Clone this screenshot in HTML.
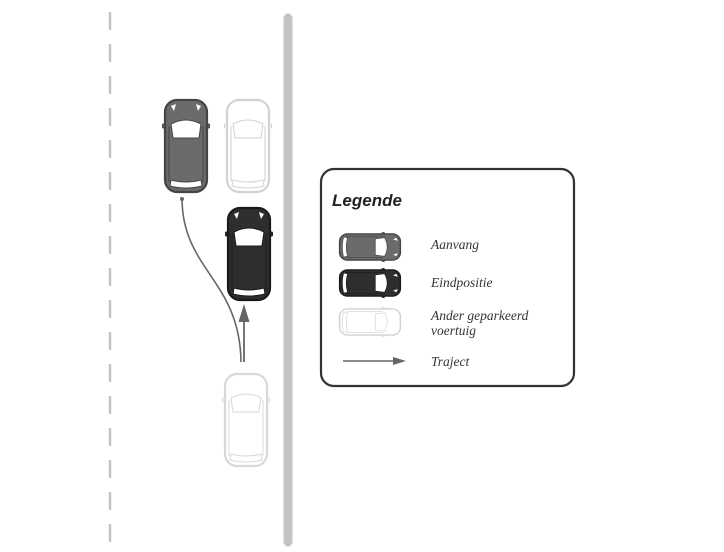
<!DOCTYPE html>
<html><head><meta charset="utf-8"><style>
html,body{margin:0;padding:0;background:#fff;}
svg{display:block;}
</style></head><body>
<svg width="724" height="552" viewBox="0 0 724 552" xmlns="http://www.w3.org/2000/svg">
<defs>
<g id="car">
  <rect x="-23.5" y="-22" width="4" height="4" rx="1"/>
  <rect x="19.5" y="-22" width="4" height="4" rx="1"/>
  <rect x="-21" y="-46" width="42" height="92" rx="12" stroke-width="2.2"/>
  <path d="M-15,-22 Q0,-30 15,-22 L13,-8 L-13,-8 Z" fill="#fff" stroke-width="1"/>
  <path d="M-17,-20 L-17,36 M17,-20 L17,36" stroke-width="1" fill="none"/>
  <path d="M-15,34 Q0,38 15,34 L16,40 Q0,44 -16,40 Z" fill="#fff" stroke-width="1"/>
  <path d="M-15,-40 L-10,-42 L-12,-35 Z M15,-40 L10,-42 L12,-35 Z" fill="#fff" stroke="none"/>
</g>
</defs>
<line x1="110" y1="12" x2="110" y2="545" stroke="#c4c4c4" stroke-width="2.5" stroke-dasharray="18,14"/>
<line x1="288" y1="18" x2="288" y2="542" stroke="#c4c4c4" stroke-width="9" stroke-linecap="round"/>

<use href="#car" transform="translate(186,146)" fill="#6b6b6b" stroke="#444"/>
<use href="#car" transform="translate(248,146)" fill="#fff" stroke="#d2d2d2"/>
<use href="#car" transform="translate(249,254)" fill="#2e2e2e" stroke="#1a1a1a"/>
<use href="#car" transform="translate(246,420)" fill="#fff" stroke="#d8d8d8"/>

<path d="M182,198 C182,270 240,280 241,362" fill="none" stroke="#666" stroke-width="1.6"/>
<circle cx="182" cy="199" r="2" fill="#666"/>
<line x1="244" y1="362" x2="244" y2="318" stroke="#666" stroke-width="1.8"/>
<polygon points="244,304 238.5,322 249.5,322" fill="#666"/>

<rect x="321" y="169" width="253" height="217" rx="13" fill="#fff" stroke="#333" stroke-width="2.2"/>
<text x="332" y="206" font-family="Liberation Sans, sans-serif" font-weight="bold" font-style="italic" font-size="17" fill="#222" textLength="70">Legende</text>
<use href="#car" transform="translate(370,247) rotate(90) scale(0.62,0.66)" fill="#6b6b6b" stroke="#444"/>
<use href="#car" transform="translate(370,283) rotate(90) scale(0.62,0.66)" fill="#2e2e2e" stroke="#1a1a1a"/>
<use href="#car" transform="translate(370,322) rotate(90) scale(0.62,0.66)" fill="#fff" stroke="#d2d2d2"/>
<line x1="343" y1="361" x2="395" y2="361" stroke="#666" stroke-width="1.5"/>
<polygon points="406,361 393,357 393,365" fill="#666"/>
<g font-family="Liberation Serif, serif" font-style="italic" font-size="13.5" fill="#333">
<text x="431" y="249">Aanvang</text>
<text x="431" y="287">Eindpositie</text>
<text x="431" y="320">Ander geparkeerd</text>
<text x="431" y="335">voertuig</text>
<text x="431" y="366">Traject</text>
</g>
</svg>
</body></html>
